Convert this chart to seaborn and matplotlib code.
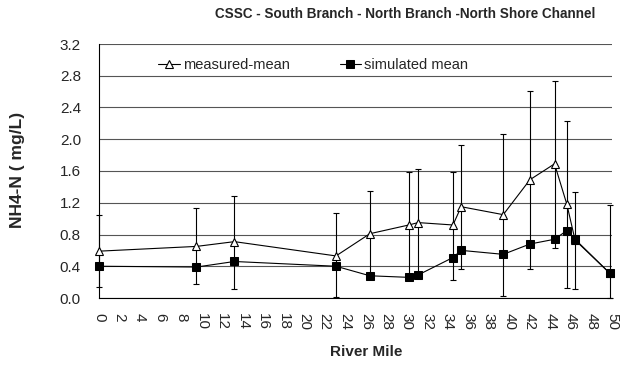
import matplotlib
matplotlib.use("Agg")
import matplotlib.pyplot as plt
import seaborn as sns
import pandas as pd
import numpy as np

# river mile positions of the stations
river_mile = [0.0, 9.5, 13.2, 23.1, 26.4, 30.2, 31.1, 34.5, 35.3, 39.4, 42.0, 44.4, 45.6, 46.4, 49.8]
measured_mean = [0.59, 0.65, 0.71, 0.53, 0.81, 0.92, 0.95, 0.92, 1.15, 1.05, 1.49, 1.69, 1.18, 0.73, 0.31]
simulated_mean = [0.40, 0.39, 0.46, 0.40, 0.28, 0.26, 0.29, 0.51, 0.60, 0.55, 0.68, 0.74, 0.85, 0.74, 0.31]
# error bar ends (measured)
err_low = [0.14, 0.18, 0.11, 0.01, 0.27, 0.25, 0.27, 0.23, 0.37, 0.03, 0.36, 0.63, 0.13, 0.11, 0.0]
err_high = [1.05, 1.13, 1.29, 1.07, 1.35, 1.59, 1.63, 1.59, 1.93, 2.07, 2.61, 2.74, 2.23, 1.33, 1.17]

df = pd.DataFrame({"mile": river_mile, "measured": measured_mean, "simulated": simulated_mean})

sns.set_style("white")
plt.rcParams["font.family"] = ["Liberation Sans", "DejaVu Sans"]

fig = plt.figure(figsize=(6.21, 3.72), dpi=100)
ax = fig.add_axes([99 / 621, 1 - 298 / 372, 513 / 621, 254 / 372])

# error bars on measured values
yerr = [np.array(measured_mean) - np.array(err_low), np.array(err_high) - np.array(measured_mean)]
eb = ax.errorbar(river_mile, measured_mean, yerr=yerr, fmt="none", ecolor="black",
                 elinewidth=0.8, capsize=2.5, capthick=0.8, zorder=2)
for art in eb.lines[1] + eb.lines[2]:
    art.set_clip_on(False)

sns.lineplot(data=df, x="mile", y="measured", ax=ax, color="black", lw=0.8,
             marker="^", markersize=6, markerfacecolor="white", markeredgecolor="black",
             markeredgewidth=0.8, label="measured-mean", zorder=3, clip_on=False)
sns.lineplot(data=df, x="mile", y="simulated", ax=ax, color="black", lw=0.8,
             marker="s", markersize=6, markerfacecolor="black", markeredgecolor="black",
             label="simulated mean", zorder=4, clip_on=False)

ax.set_xlim(0, 50)
ax.set_ylim(0, 3.2)
ax.set_xticks(np.arange(0, 51, 2))
ax.set_yticks(np.arange(0, 3.21, 0.4))
ax.set_yticklabels([f"{v:.1f}" for v in np.arange(0, 3.21, 0.4)])
ax.tick_params(axis="x", labelrotation=270, labelsize=11, direction="out", length=4, width=0.8, pad=7)
ax.tick_params(axis="y", labelsize=11, direction="out", length=4, width=0.8, pad=9)
ax.grid(axis="y", color="#555555", lw=0.8)
ax.grid(axis="x", visible=False)
for s in ["top", "right"]:
    ax.spines[s].set_visible(False)
for s in ["left", "bottom"]:
    ax.spines[s].set_color("black")
    ax.spines[s].set_linewidth(0.8)

ax.set_xlabel("")
ax.set_ylabel("")
fig.text(366 / 621, 1 - 352 / 372, "River Mile", ha="center", va="center",
         fontsize=11, fontweight="bold")
fig.text(18 / 621, 1 - 170 / 372, "NH4-N ( mg/L)", ha="center", va="center",
         rotation=90, fontsize=12.5, fontweight="bold")
fig.text(405 / 621, 1 - 14 / 372, "CSSC - South Branch - North Branch -North Shore Channel",
         ha="center", va="center", fontsize=9.75, fontweight="bold")

ax.legend(loc="upper left", bbox_to_anchor=(0.09, 0.995), ncol=2, frameon=False,
          fontsize=10.5, handlelength=1.5, handletextpad=0.2, columnspacing=3.4)

fig.savefig("out.png", dpi=100)
